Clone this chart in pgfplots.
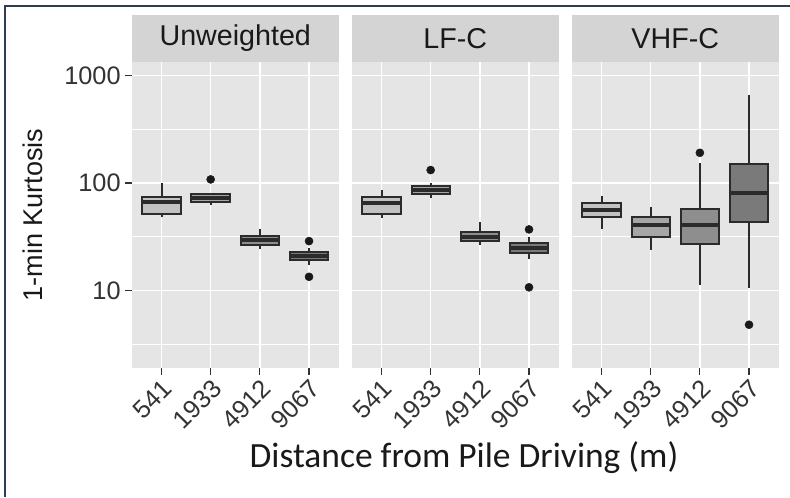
\documentclass[border=0pt]{standalone}
\usepackage{fontspec}
\setmainfont{Liberation Sans}
\newfontfamily\calibri{Carlito}
\usepackage{pgfplots}
\pgfplotsset{compat=1.18}
\definecolor{panelbg}{HTML}{E5E5E5}
\definecolor{stripbg}{HTML}{D4D4D4}
\definecolor{boxline}{HTML}{2B2B2B}
\definecolor{ticktext}{HTML}{333333}
\definecolor{fA}{HTML}{C2C2C2}
\definecolor{fB}{HTML}{A6A6A6}
\definecolor{fC}{HTML}{8E8E8E}
\definecolor{fD}{HTML}{7A7A7A}
\definecolor{framecol}{HTML}{2E3D4F}
\pgfplotsset{
  every axis/.append style={
    scale only axis, width=154.9pt, height=229.5pt,
    ymin=1.90, ymax=1336,
    xmin=0.4, xmax=4.6,
    axis background/.style={fill=panelbg},
    axis line style={draw=none},
    grid=both,
    major grid style={white, line width=1.1pt},
    minor grid style={white, line width=0.55pt},
    ytick={10,100,1000},
    minor ytick={3.1623,31.623,316.23},
    xtick={1,2,3,4}, xticklabels={541,1933,4912,9067},
    minor xtick={},
    tick align=outside, tick pos=left,
    major tick length=5pt, minor tick length=0pt,
    every tick/.style={ticktext, line width=0.9pt},
    xticklabel style={rotate=45, anchor=north east, inner sep=1.5pt, font=\fontsize{19}{21}\selectfont, text=ticktext},
    yticklabel style={font=\fontsize{19}{21}\selectfont, text=ticktext},
    log ticks with fixed point,
    /pgf/number format/1000 sep={},
    /pgf/number format/assume math mode=true,
    clip=false,
  },
  /pgfplots/ln/.style={draw=boxline, line width=1.5pt, line cap=rect, mark=none},
  /pgfplots/outl/.style={only marks, mark=*, mark size=3pt, draw=black!90, fill=black!90},
}
% #1 centre, #2 left, #3 right, #4 lw, #5 lq, #6 med, #7 uq, #8 uw, #9 fill
\newcommand{\bxp}[9]{%
  \addplot[ln, line cap=butt] coordinates {(#1,#4) (#1,#5)};
  \addplot[ln, line cap=butt] coordinates {(#1,#7) (#1,#8)};
  \addplot[ln, fill=#9] coordinates {(#2,#5) (#3,#5) (#3,#7) (#2,#7) (#2,#5)};
  \addplot[ln, line cap=butt, line width=3pt] coordinates {(#2,#6) (#3,#6)};
}
\newcommand{\strip}[1]{%
  \fill[stripbg] (rel axis cs:0,1) rectangle ([yshift=35.25pt]rel axis cs:1,1);
  \node[font=\fontsize{21.5}{24}\selectfont, text=black!90] at ([yshift=17.6pt]rel axis cs:0.5,1) {#1};
}
\begin{document}
\begin{tikzpicture}
\useasboundingbox (0,0) rectangle (592.5pt,372.75pt);
\draw[framecol, line width=1.5pt] (3.75pt,0) -- (3.75pt,368.25pt) -- (592.5pt,368.25pt);

% Panel 1: Unweighted
\begin{axis}[ymode=log, at={(99pt,96.75pt)}, anchor=south west]
\strip{Unweighted}
\bxp{1}{0.61}{1.39}{48}{52}{66}{74.6}{100}{fA}
\bxp{2}{1.61}{2.39}{62}{67}{73}{79}{81}{fB}
\bxp{3}{2.61}{3.39}{24.2}{26.3}{29.5}{32}{37.6}{fC}
\bxp{4}{3.61}{4.39}{17.3}{19.2}{20.9}{23}{24.6}{fD}
\addplot[outl] coordinates {(2,108) (4,28.8) (4,13.4)};
\end{axis}

% Panel 2: LF-C
\begin{axis}[ymode=log, at={(264pt,96.75pt)}, anchor=south west, yticklabels={}, ytick style={draw=none}]
\strip{LF-C}
\bxp{1}{0.61}{1.39}{47}{52}{65.6}{74.6}{86}{fA}
\bxp{2}{1.61}{2.39}{73}{79.5}{86}{93.7}{101}{fB}
\bxp{3}{2.61}{3.39}{26.3}{28.7}{31.7}{35.2}{43.6}{fC}
\bxp{4}{3.61}{4.39}{19.8}{22.5}{25}{27.8}{31.7}{fD}
\addplot[outl] coordinates {(2,132) (4,37) (4,10.7)};
\end{axis}

% Panel 3: VHF-C
\begin{axis}[ymode=log, at={(429pt,96.75pt)}, anchor=south west, yticklabels={}, ytick style={draw=none}]
\strip{VHF-C}
\bxp{1}{0.61}{1.39}{37}{48.3}{56}{65.6}{76}{fA}
\bxp{2}{1.61}{2.39}{23.8}{31.5}{40.6}{48.3}{60}{fB}
\bxp{3}{2.61}{3.39}{11.2}{27}{40.6}{57}{152}{fC}
\bxp{4}{3.61}{4.39}{10.5}{43.6}{81}{150}{659}{fD}
\addplot[outl] coordinates {(3,191) (4,4.8)};
\end{axis}

\node[rotate=90, font=\fontsize{20.3}{24}\selectfont, text=black!90] at (24.75pt,211.5pt) {1-min Kurtosis};
\node[font=\calibri\fontsize{26.6}{30}\selectfont, text=black!90] at (348pt,29.25pt) {Distance from Pile Driving (m)};
\end{tikzpicture}
\end{document}
